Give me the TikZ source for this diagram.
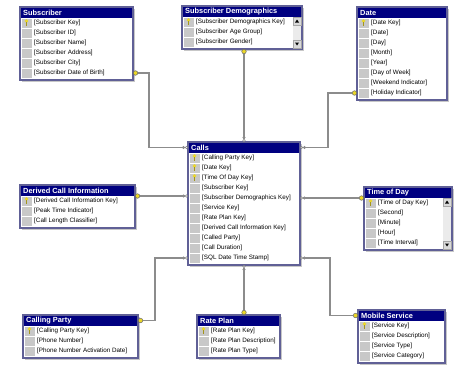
\documentclass[tikz,border=0pt]{standalone}
\usepackage{fontspec}
\setmainfont{Liberation Sans}
\usepackage{tikz}
\usetikzlibrary{calc,arrows.meta}

\definecolor{titlenavy}{RGB}{0,0,128}
\definecolor{framegray}{RGB}{96,96,150}
\definecolor{cellgray}{RGB}{200,200,200}
\definecolor{keyyellow}{RGB}{235,215,40}

% table: name, x, y, width, rows, keys, title, row list
\newcommand{\ertable}[8]{%
  \pgfmathsetmacro{\erh}{13+10*#5}
  \fill[black!22] (#2+2,#3+2) rectangle ++(#4,\erh);
  \node[tblframe, minimum width=#4, minimum height=\erh] (#1) at (#2,#3) {};
  \fill[titlenavy] (#2,#3) rectangle ++(#4,11);
  \node[tbltitle] (#1-t) at (#2+3,#3+5.5) {#7};
  \foreach \rowname [count=\i] in {#8} {
    \node[keycell] (#1-k\i) at (#2+1,#3+11+10*\i-10) {};
    \node[rowtext] (#1-r\i) at (#2+14,#3+16+10*\i-10) {[\rowname]};
    \ifnum\i>#6\relax\else
      \fill[keyyellow] (#2+6.5,#3+14+10*\i-10) circle (1.9);
      \draw[keyyellow!70!black, line width=0.9pt] (#2+6.5,#3+15+10*\i-10) -- ++(0,4);
    \fi
  }
  \draw[framegray, line width=1.2pt] (#1.north west) rectangle (#1.south east);
}

% scroll bar on the right side of a table
\newcommand{\erscroll}[1]{%
  \fill[black!8] ($(#1.north east)+(-9,11)$) rectangle ($(#1.south east)+(-1,-1)$);
  \draw[black!35, fill=black!15] ($(#1.north east)+(-9,11)$) rectangle ++(8,8);
  \draw[black!35, fill=black!15] ($(#1.south east)+(-9,-9)$) rectangle ++(8,8);
  \fill ($(#1.north east)+(-5,13.5)$) -- ++(2,3) -- ++(-4,0) -- cycle;
  \fill ($(#1.south east)+(-5,-3.5)$) -- ++(2,-3) -- ++(-4,0) -- cycle;
}

\begin{document}
\begin{tikzpicture}[x=1pt, y=-1pt,
    tblframe/.style={fill=white, anchor=north west, inner sep=0pt, outer sep=0pt},
    tbltitle/.style={anchor=west, inner sep=0pt, text=white, font=\fontsize{7.4}{8}\selectfont\bfseries},
    keycell/.style={anchor=north west, fill=cellgray, draw=white, line width=0.4pt,
        minimum width=11pt, minimum height=10pt, inner sep=0pt},
    rowtext/.style={anchor=west, inner sep=0pt, font=\fontsize{6.3}{7}\selectfont},
    link/.style={draw=black!45, line width=1.2pt,
        {Circle[fill=keyyellow, color=black!60, length=5pt, line width=0.5pt]}-{Circle[open, length=3pt, line width=0.6pt] Circle[open, length=3pt, line width=0.6pt]}}]

    \useasboundingbox (0,0) rectangle (454,364);

    % Draw dimension tables
    \ertable{sub}{20}{7}{113}{6}{1}{Subscriber}{Subscriber Key, Subscriber ID, Subscriber Name, Subscriber Address, Subscriber City, Subscriber Date of Birth}
    \ertable{sdem}{182}{6}{120}{3}{1}{Subscriber Demographics}{Subscriber Demographics Key, Subscriber Age Group, Subscriber Gender}
    \erscroll{sdem}
    \ertable{date}{357}{7}{90}{8}{1}{Date}{Date Key, Date, Day, Month, Year, Day of Week, Weekend Indicator, Holiday Indicator}
    \ertable{dci}{20}{185}{115}{3}{1}{Derived Call Information}{Derived Call Information Key, Peak Time Indicator, Call Length Classifier}
    \ertable{tod}{364}{187}{88}{5}{1}{Time of Day}{Time of Day Key, Second, Minute, Hour, Time Interval}
    \erscroll{tod}
    \ertable{cp}{23}{315}{115}{3}{1}{Calling Party}{Calling Party Key, Phone Number, Phone Number Activation Date}
    \ertable{rp}{197}{315}{83}{3}{1}{Rate Plan}{Rate Plan Key, Rate Plan Description, Rate Plan Type}
    \ertable{ms}{358}{310}{87}{4}{1}{Mobile Service}{Service Key, Service Description, Service Type, Service Category}

    % Draw fact table
    \ertable{calls}{188}{142}{112}{11}{3}{Calls}{Calling Party Key, Date Key, Time Of Day Key, Subscriber Key, Subscriber Demographics Key, Service Key, Rate Plan Key, Derived Call Information Key, Called Party, Call Duration, SQL Date Time Stamp}

    % Relationships
    \draw[link] (sub.east |- sub-r6) -- ++(16,0) |- (calls.west |- calls-t);
    \draw[link] (sdem.south -| calls.north) -- (calls.north);
    \draw[link] (date.west |- date-r8) -- ++(-29,0) |- (calls.east |- calls-t);
    \draw[link] (dci.east |- dci-k1.north) -- (calls.west |- dci-k1.north);
    \draw[link] (tod.west |- tod-k1.north) -- (calls.east |- tod-k1.north);
    \draw[link] (cp.east |- cp-t) -- ++(17,0) |- (calls.west |- calls-r11);
    \draw[link] (rp.north -| calls.south) -- (calls.south);
    \draw[link] (ms.west |- ms-t) -- ++(-28,0) |- (calls.east |- calls-r11);

\end{tikzpicture}
\end{document}
